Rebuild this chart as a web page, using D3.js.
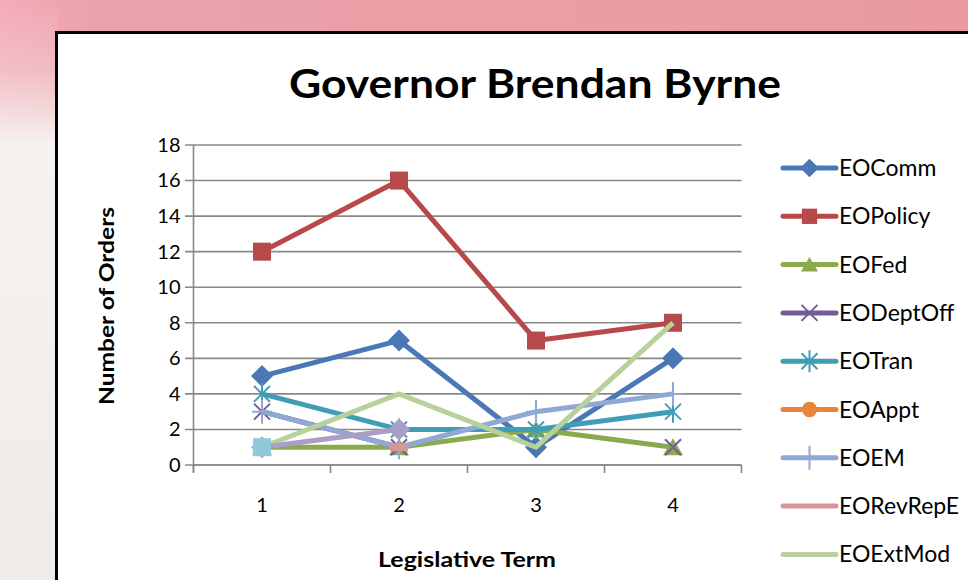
<!DOCTYPE html>
<html><head><meta charset="utf-8">
<script src="https://cdn.jsdelivr.net/npm/d3@7"></script>
<style>html,body{margin:0;padding:0;overflow:hidden;background:#fff}</style>
</head><body>
<svg id="c" width="968" height="580"></svg>
<script>
const categories = ["1","2","3","4"];
const yTicks = [0,2,4,6,8,10,12,14,16,18];
const EOComm    = [5,7,1,6];
const EOPolicy  = [12,16,7,8];
const EOFed     = [1,1,2,1];
const EODeptOff = [3,1,null,1];
const EOTran    = [4,2,2,3];
const EOAppt    = [null,null,null,null];
const EOEM      = [3,1,3,4];
const EORevRepE = [null,1,null,null];
const EOExtMod  = [1,4,1,8];
const Series10  = [1,null,null,null];
const Series11  = [1,2,null,null];
const legendNames = ["EOComm","EOPolicy","EOFed","EODeptOff","EOTran","EOAppt","EOEM","EORevRepE","EOExtMod"];

const colors = {EOComm:"#4a78b5",EOPolicy:"#b8494a",EOFed:"#8aab4c",EODeptOff:"#735c98",EOTran:"#3f9db6",EOAppt:"#e8853a",EOEM:"#8fa8d4",EORevRepE:"#d79597",EOExtMod:"#b7d19a",Series10:"#92c8da",Series11:"#aa9dc6"};
const markers = {EOComm:"diamond",EOPolicy:"square",EOFed:"triangle",EODeptOff:"x",EOTran:"star",EOAppt:"circle",EOEM:"plus",EORevRepE:"dash",EOExtMod:"none",Series10:"square",Series11:"diamond"};
const valuesOf = {EOComm,EOPolicy,EOFed,EODeptOff,EOTran,EOAppt,EOEM,EORevRepE,EOExtMod,Series10,Series11};

const FONT = "Lato, 'Open Sans', sans-serif";
const svg = d3.select("#c");
const defs = svg.append("defs");
const g1 = defs.append("linearGradient").attr("id","bgH").attr("x1","0").attr("x2","1").attr("y1","0").attr("y2","0");
g1.append("stop").attr("offset","0").attr("stop-color","#f5aab8");
g1.append("stop").attr("offset","0.1").attr("stop-color","#eba2ab");
g1.append("stop").attr("offset","1").attr("stop-color","#e89aa0");
const g2 = defs.append("linearGradient").attr("id","bgV").attr("x1","0").attr("x2","0").attr("y1","0").attr("y2","1");
g2.append("stop").attr("offset","0").attr("stop-color","#f4eeec").attr("stop-opacity","0");
g2.append("stop").attr("offset","0.12").attr("stop-color","#f4eeec").attr("stop-opacity","0.3");
g2.append("stop").attr("offset","0.25").attr("stop-color","#f6f2f0").attr("stop-opacity","1");
g2.append("stop").attr("offset","1").attr("stop-color","#efebe8").attr("stop-opacity","1");

svg.append("rect").attr("width",968).attr("height",580).attr("fill","url(#bgH)");
svg.append("rect").attr("x",0).attr("y",0).attr("width",58).attr("height",580).attr("fill","url(#bgV)");
svg.append("rect").attr("x",56.5).attr("y",32.5).attr("width",1000).attr("height",700)
  .attr("fill","#fff").attr("stroke","#000").attr("stroke-width",3);

const x = d3.scaleBand().domain(categories).range([193.5,741.5]);
const y = d3.scaleLinear().domain([0,18]).range([465,145]);

svg.append("g").selectAll("line").data(yTicks).join("line")
  .attr("x1",185).attr("x2",741.5).attr("y1",d=>y(d)).attr("y2",d=>y(d))
  .attr("stroke","#888").attr("stroke-width",1.6);

const ya = svg.append("g").attr("transform","translate(193.5,0)")
  .call(d3.axisLeft(y).tickValues(yTicks).tickSize(0).tickPadding(13));
ya.select(".domain").attr("stroke","#888").attr("stroke-width",1.6).attr("d","M0,145V472");
ya.selectAll("text").attr("font-family",FONT).attr("font-size",20).attr("fill","#000");

const xa = svg.append("g").attr("transform","translate(0,465)")
  .call(d3.axisBottom(x).tickSize(0).tickPadding(33));
xa.select(".domain").attr("stroke","#888").attr("stroke-width",1.6).attr("d","M193.5,0H741.5");
xa.selectAll("text").attr("font-family",FONT).attr("font-size",20).attr("fill","#000");
xa.append("g").selectAll("line").data(x.domain().map(d=>x(d)).concat([741.5])).join("line")
  .attr("x1",d=>d).attr("x2",d=>d).attr("y1",0).attr("y2",8).attr("stroke","#888").attr("stroke-width",1.6);

svg.append("text").attr("x",535).attr("y",98).attr("text-anchor","middle")
  .attr("font-family",FONT).attr("font-weight","bold").attr("font-size",40)
  .attr("textLength",492).attr("lengthAdjust","spacingAndGlyphs").text("Governor Brendan Byrne");
svg.append("text").attr("x",467).attr("y",567).attr("text-anchor","middle")
  .attr("font-family",FONT).attr("font-weight","bold").attr("font-size",21)
  .attr("textLength",178).attr("lengthAdjust","spacingAndGlyphs").text("Legislative Term");
svg.append("text").attr("transform","translate(114,306) rotate(-90)").attr("text-anchor","middle")
  .attr("font-family",FONT).attr("font-weight","bold").attr("font-size",21)
  .attr("textLength",198).attr("lengthAdjust","spacingAndGlyphs").text("Number of Orders");

function drawMarker(sel, type, color, cx, cy, s) {
  s = s || 1;
  if (type==="none") return;
  const g = sel.append("g").attr("transform",`translate(${cx},${cy})`);
  if (type==="diamond") g.append("path").attr("d",`M0,${-11*s}L${11*s},0L0,${11*s}L${-11*s},0Z`).attr("fill",color);
  else if (type==="square") g.append("rect").attr("x",-9*s).attr("y",-9*s).attr("width",18*s).attr("height",18*s).attr("fill",color);
  else if (type==="triangle") g.append("path").attr("d",`M0,${-9*s}L${10*s},${8*s}L${-10*s},${8*s}Z`).attr("fill",color);
  else if (type==="circle") g.append("circle").attr("r",9*s).attr("fill",color);
  else if (type==="x") g.append("path").attr("d",`M-8,-8L8,8M-8,8L8,-8`).attr("stroke",color).attr("stroke-width",2);
  else if (type==="star") g.append("path").attr("d",`M-8,-8L8,8M-8,8L8,-8M0,-11V11`).attr("stroke",color).attr("stroke-width",2);
  else if (type==="plus") g.append("path").attr("d",`M0,-12V12M-10,0H10`).attr("stroke",color).attr("stroke-width",2);
  else if (type==="dash") g.append("rect").attr("x",-9).attr("y",-4).attr("width",18).attr("height",8).attr("fill",color);
}

const line = d3.line().defined(d=>d.v!==null).x(d=>x(d.c)+x.bandwidth()/2).y(d=>y(d.v));
const plot = svg.append("g");
const order = ["EOComm","EOPolicy","EOFed","EODeptOff","EOTran","EOAppt","EOEM","EORevRepE","EOExtMod","Series11","Series10"];
order.forEach(name=>{
  const pts = categories.map((c,i)=>({c, v: valuesOf[name][i]}));
  const gg = plot.append("g");
  gg.append("path").attr("d",line(pts)).attr("fill","none").attr("stroke",colors[name])
    .attr("stroke-width",5).attr("stroke-linejoin","round");
  pts.filter(p=>p.v!==null).forEach(p=>{
    drawMarker(gg, markers[name], colors[name], x(p.c)+x.bandwidth()/2, y(p.v));
  });
});

const lg = svg.append("g");
legendNames.forEach((name,i)=>{
  const yy = 168 + i*48.3;
  lg.append("line").attr("x1",783).attr("x2",836).attr("y1",yy).attr("y2",yy)
    .attr("stroke",colors[name]).attr("stroke-width",5).attr("stroke-linecap","round");
  if (markers[name]!=="dash") drawMarker(lg, markers[name], colors[name], 809.5, yy, 0.85);
  lg.append("text").attr("x",839).attr("y",yy+8).attr("font-family",FONT)
    .attr("font-size",23).attr("fill","#000").text(name);
});
</script>
</body></html>
